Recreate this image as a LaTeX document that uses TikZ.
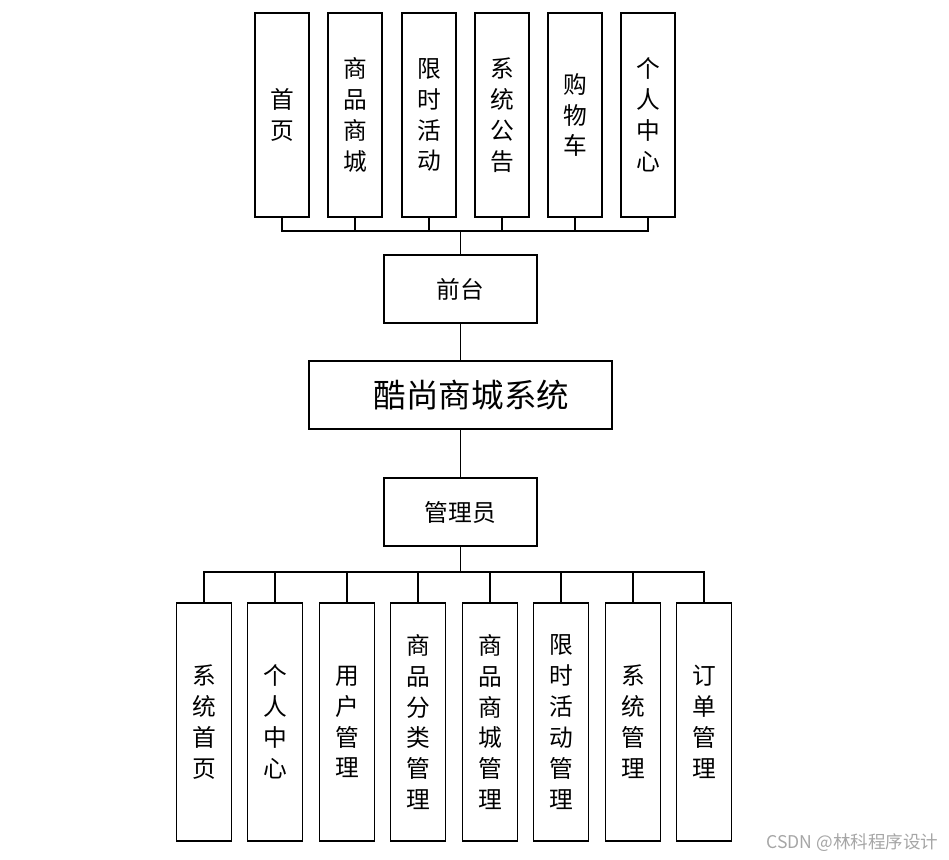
\documentclass[tikz,border=0pt]{standalone}
\usepackage{fontspec}
\newfontfamily\cjk{Noto Sans CJK SC}
\begin{document}
\begin{tikzpicture}[x=0.02cm,y=-0.02cm,line width=0.8pt,
  tallbox/.style={draw,minimum width=1.08cm,minimum height=4.08cm,inner sep=0pt,align=center,font=\cjk\fontsize{13.5}{17.6}\selectfont},
  lowbox/.style={tallbox,minimum width=1.1cm,minimum height=4.76cm},
  widebox/.style={draw,minimum width=3.06cm,minimum height=1.36cm,inner sep=0pt,font=\cjk\fontsize{13.5}{16}\selectfont}]
\useasboundingbox (0,0) rectangle (949,859);
% front end
\node[tallbox] (T1) at (282,115) {首\\页};
\node[tallbox] (T2) at (355,115) {商\\品\\商\\城};
\node[tallbox] (T3) at (429,115) {限\\时\\活\\动};
\node[tallbox] (T4) at (502,115) {系\\统\\公\\告};
\node[tallbox] (T5) at (575,115) {购\\物\\车};
\node[tallbox] (T6) at (648,115) {个\\人\\中\\心};
\node[widebox] (QT) at (460.5,289) {前台};
\node[widebox,minimum width=6.06cm,font=\cjk\fontsize{18.5}{20}\selectfont] (SYS) at (460.5,395) {\hspace{0.44cm}酷尚商城系统};
\node[widebox] (GLY) at (460.5,512) {管理员};
% back end
\node[lowbox] (B1) at (204,722) {系\\统\\首\\页};
\node[lowbox] (B2) at (275,722) {个\\人\\中\\心};
\node[lowbox] (B3) at (347,722) {用\\户\\管\\理};
\node[lowbox] (B4) at (418,722) {商\\品\\分\\类\\管\\理};
\node[lowbox] (B5) at (490,722) {商\\品\\商\\城\\管\\理};
\node[lowbox] (B6) at (561,722) {限\\时\\活\\动\\管\\理};
\node[lowbox] (B7) at (633,722) {系\\统\\管\\理};
\node[lowbox] (B8) at (704,722) {订\\单\\管\\理};
% connectors
\coordinate (ubus) at (460.5,231);
\coordinate (dbus) at (460.5,572);
\foreach \i in {1,...,6}
  \draw (T\i.south) |- (ubus);
\draw (ubus) -- (QT.north);
\draw (QT.south) -- (SYS.north);
\draw (SYS.south) -- (GLY.north);
\draw (GLY.south) -- (dbus);
\foreach \i in {1,...,8}
  \draw (dbus) -| (B\i.north);
\node[text=black!35,font=\cjk\fontsize{10}{12}\selectfont,anchor=east] (wm) at (945,843) {CSDN @林科程序设计};
\end{tikzpicture}
\end{document}
